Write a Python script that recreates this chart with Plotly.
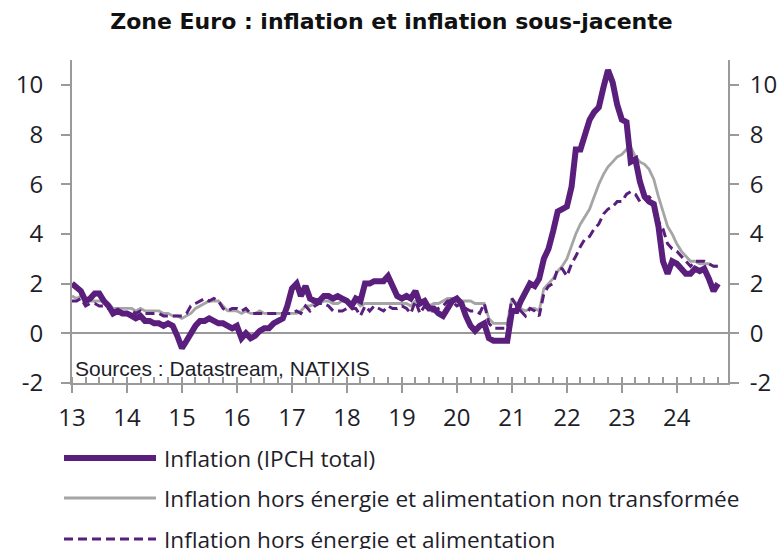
import pandas as pd
import plotly.graph_objects as go

# ---------------- data ----------------
months = pd.date_range("2013-01-01", "2024-10-01", freq="MS")

inflation_total = [
    2.0, 1.8, 1.7, 1.3, 1.4, 1.6, 1.6, 1.3, 1.1, 0.8, 0.9, 0.8,      # 2013
    0.8, 0.7, 0.6, 0.7, 0.5, 0.5, 0.4, 0.4, 0.3, 0.4, 0.3, -0.1,     # 2014
    -0.6, -0.3, 0.0, 0.3, 0.5, 0.5, 0.6, 0.5, 0.4, 0.4, 0.3, 0.2,    # 2015
    0.3, -0.2, 0.0, -0.2, -0.1, 0.1, 0.2, 0.2, 0.4, 0.5, 0.6, 1.1,   # 2016
    1.8, 2.0, 1.5, 1.9, 1.4, 1.3, 1.3, 1.5, 1.5, 1.4, 1.5, 1.4,      # 2017
    1.3, 1.1, 1.4, 1.3, 2.0, 2.0, 2.1, 2.1, 2.1, 2.3, 1.9, 1.5,      # 2018
    1.4, 1.5, 1.4, 1.7, 1.2, 1.3, 1.0, 1.0, 0.8, 0.7, 1.0, 1.3,      # 2019
    1.4, 1.2, 0.7, 0.3, 0.1, 0.3, 0.4, -0.2, -0.3, -0.3, -0.3, -0.3, # 2020
    0.9, 0.9, 1.3, 1.6, 2.0, 1.9, 2.2, 3.0, 3.4, 4.1, 4.9, 5.0,      # 2021
    5.1, 5.9, 7.4, 7.4, 8.1, 8.6, 8.9, 9.1, 9.9, 10.6, 10.1, 9.2,    # 2022
    8.6, 8.5, 6.9, 7.0, 6.1, 5.5, 5.3, 5.2, 4.3, 2.9, 2.4, 2.9,      # 2023
    2.8, 2.6, 2.4, 2.4, 2.6, 2.5, 2.6, 2.2, 1.7, 2.0,                # 2024
]

inflation_ex_energy_unprocessed_food = [
    1.5, 1.4, 1.5, 1.3, 1.3, 1.3, 1.3, 1.3, 1.2, 1.0, 1.0, 1.0,      # 2013
    1.0, 1.0, 0.9, 1.0, 0.9, 0.9, 0.9, 0.9, 0.8, 0.8, 0.7, 0.7,      # 2014
    0.6, 0.7, 0.8, 1.0, 1.1, 1.2, 1.3, 1.3, 1.3, 1.1, 0.9, 0.9,      # 2015
    0.9, 0.8, 0.9, 0.8, 0.8, 0.9, 0.8, 0.8, 0.8, 0.8, 0.8, 0.8,      # 2016
    0.8, 0.8, 0.9, 1.1, 1.1, 1.2, 1.2, 1.3, 1.3, 1.2, 1.2, 1.3,      # 2017
    1.3, 1.2, 1.3, 1.1, 1.2, 1.2, 1.2, 1.2, 1.2, 1.2, 1.2, 1.2,      # 2018
    1.2, 1.2, 1.1, 1.3, 1.2, 1.2, 1.1, 1.2, 1.2, 1.3, 1.4, 1.4,      # 2019
    1.4, 1.3, 1.3, 1.3, 1.2, 1.2, 1.2, 0.6, 0.4, 0.4, 0.4, 0.4,      # 2020
    1.4, 1.2, 1.0, 0.9, 1.0, 1.0, 0.9, 1.8, 2.0, 2.2, 2.5, 2.7,      # 2021
    3.0, 3.5, 4.0, 4.4, 4.7, 5.0, 5.5, 6.0, 6.4, 6.7, 6.9, 7.1,      # 2022
    7.2, 7.4, 7.5, 7.1, 6.9, 6.8, 6.6, 6.2, 5.5, 4.9, 4.3, 4.0,      # 2023
    3.6, 3.3, 3.1, 2.9, 2.9, 2.8, 2.8, 2.8, 2.7, 2.7,                # 2024
]

inflation_ex_energy_food = [
    1.3, 1.3, 1.4, 1.1, 1.2, 1.2, 1.1, 1.1, 1.0, 0.9, 0.9, 0.8,      # 2013
    0.8, 0.9, 0.8, 0.9, 0.8, 0.8, 0.8, 0.8, 0.7, 0.7, 0.7, 0.7,      # 2014
    0.7, 0.8, 1.1, 1.2, 1.3, 1.4, 1.3, 1.4, 1.3, 1.0, 0.9, 1.0,      # 2015
    1.0, 0.9, 1.0, 0.8, 0.8, 0.8, 0.8, 0.8, 0.8, 0.8, 0.8, 0.8,      # 2016
    0.8, 0.9, 0.8, 1.1, 0.9, 1.1, 1.2, 1.2, 1.1, 0.9, 0.9, 0.9,      # 2017
    1.0, 1.0, 1.0, 0.7, 1.1, 0.9, 1.1, 1.0, 0.9, 1.1, 1.0, 1.0,      # 2018
    1.1, 1.0, 0.8, 1.3, 0.8, 1.1, 0.9, 0.9, 1.0, 1.1, 1.3, 1.3,      # 2019
    1.1, 1.2, 1.0, 0.9, 0.9, 0.8, 1.2, 0.4, 0.2, 0.2, 0.2, 0.2,      # 2020
    1.4, 1.1, 0.9, 0.7, 1.0, 0.9, 0.7, 1.6, 1.9, 2.0, 2.6, 2.6,      # 2021
    2.3, 2.8, 3.1, 3.5, 3.8, 3.9, 4.2, 4.4, 4.8, 5.0, 5.1, 5.3,      # 2022
    5.3, 5.6, 5.7, 5.6, 5.3, 5.5, 5.5, 5.3, 4.5, 4.2, 3.6, 3.4,      # 2023
    3.3, 3.1, 2.9, 2.7, 2.9, 2.9, 2.9, 2.8, 2.7, 2.7,                # 2024
]

series_names = [
    "Inflation (IPCH total)",
    "Inflation hors énergie et alimentation non transformée",
    "Inflation hors énergie et alimentation",
]
y_ticks = [-2, 0, 2, 4, 6, 8, 10]
y_tick_labels = ["-2", "0", "2", "4", "6", "8", "10"]
title_text = "Zone Euro : inflation et inflation sous-jacente"
source_text = "Sources : Datastream, NATIXIS"

# ---------------- style ----------------
PURPLE = "#5A1F7D"
GREY = "#A5A5A5"
AXIS = "#9A9A9A"
TEXT = "#1E1E2A"
FONT = "Open Sans"

W, H = 783, 549
L, R, T, B = 72, 55, 60, 166
plot_w = W - L - R
plot_h = H - T - B


def px_x(px):
    return (px - L) / plot_w


def px_y(py):
    return (H - B - py) / plot_h


fig = go.Figure()

fig.add_trace(go.Scatter(
    x=months, y=inflation_ex_energy_unprocessed_food, mode="lines",
    line=dict(color=GREY, width=2.8), name=series_names[1],
    showlegend=False))
fig.add_trace(go.Scatter(
    x=months, y=inflation_ex_energy_food, mode="lines",
    line=dict(color=PURPLE, width=3, dash="9px,5px"), name=series_names[2],
    showlegend=False))
fig.add_trace(go.Scatter(
    x=months, y=inflation_total, mode="lines",
    line=dict(color=PURPLE, width=6), name=series_names[0],
    showlegend=False))
# invisible trace to carry the right-hand axis
fig.add_trace(go.Scatter(
    x=months, y=inflation_total, mode="lines", yaxis="y2",
    line=dict(color="rgba(0,0,0,0)", width=0), hoverinfo="skip",
    showlegend=False))

yaxis_common = dict(
    range=[-2, 11], tickvals=y_ticks, ticktext=y_tick_labels,
    showgrid=False, showline=True, linecolor=AXIS, linewidth=2,
    ticks="outside", ticklen=9, tickwidth=2, tickcolor=AXIS,
    tickfont=dict(family=FONT, size=24, color=TEXT),
    fixedrange=True, automargin=False,
)

fig.update_layout(
    width=W, height=H,
    margin=dict(l=L, r=R, t=T, b=B),
    paper_bgcolor="white", plot_bgcolor="white",
    title=dict(text="<b>" + title_text + "</b>", x=0.5, xanchor="center",
               y=1 - 21 / H, yanchor="middle",
               font=dict(family="DejaVu Sans", size=22, color="#111111")),
    xaxis=dict(
        type="date", range=["2013-01-01", "2024-12-06"],
        tick0="2013-01-01", dtick="M12", tickformat="%y",
        showgrid=False, showline=True, linecolor=AXIS, linewidth=2,
        ticks="outside", ticklen=8, tickwidth=2, tickcolor=AXIS,
        ticklabelstandoff=4,
        tickfont=dict(family=FONT, size=24, color=TEXT),
        minor=dict(ticks="inside", dtick="M3", tick0="2013-01-01",
                   ticklen=6, tickwidth=2, tickcolor=AXIS, showgrid=False),
        zeroline=False, automargin=False, fixedrange=True,
    ),
    yaxis=dict(**yaxis_common, side="left", zeroline=True,
               zerolinecolor=AXIS, zerolinewidth=2, ticklabelstandoff=13),
    yaxis2=dict(**yaxis_common, side="right", overlaying="y",
                zeroline=False, ticklabelstandoff=6),
    showlegend=False,
)

# source note
fig.add_annotation(
    text=source_text, xref="paper", yref="paper",
    x=px_x(73), y=px_y(368), xanchor="left", yanchor="middle",
    showarrow=False, font=dict(family="Liberation Sans", size=21, color=TEXT))

# custom legend (long line samples as in the reference)
legend_rows = [
    (series_names[0], dict(color=PURPLE, width=6), 458),
    (series_names[1], dict(color=GREY, width=3), 498),
    (series_names[2], dict(color=PURPLE, width=3, dash="9px,5px"), 539),
]
for name, line_style, py in legend_rows:
    fig.add_shape(type="line", xref="paper", yref="paper",
                  x0=px_x(64), x1=px_x(156), y0=px_y(py), y1=px_y(py),
                  line=line_style)
    fig.add_annotation(text=name, xref="paper", yref="paper",
                       x=px_x(162), y=px_y(py), xanchor="left",
                       yanchor="middle", showarrow=False,
                       font=dict(family=FONT, size=22.6, color=TEXT))

fig.write_html(
    "out.html",
    config={"displayModeBar": False},
    post_script="document.body.style.margin='0';"
                "document.body.style.overflow='hidden';",
)
